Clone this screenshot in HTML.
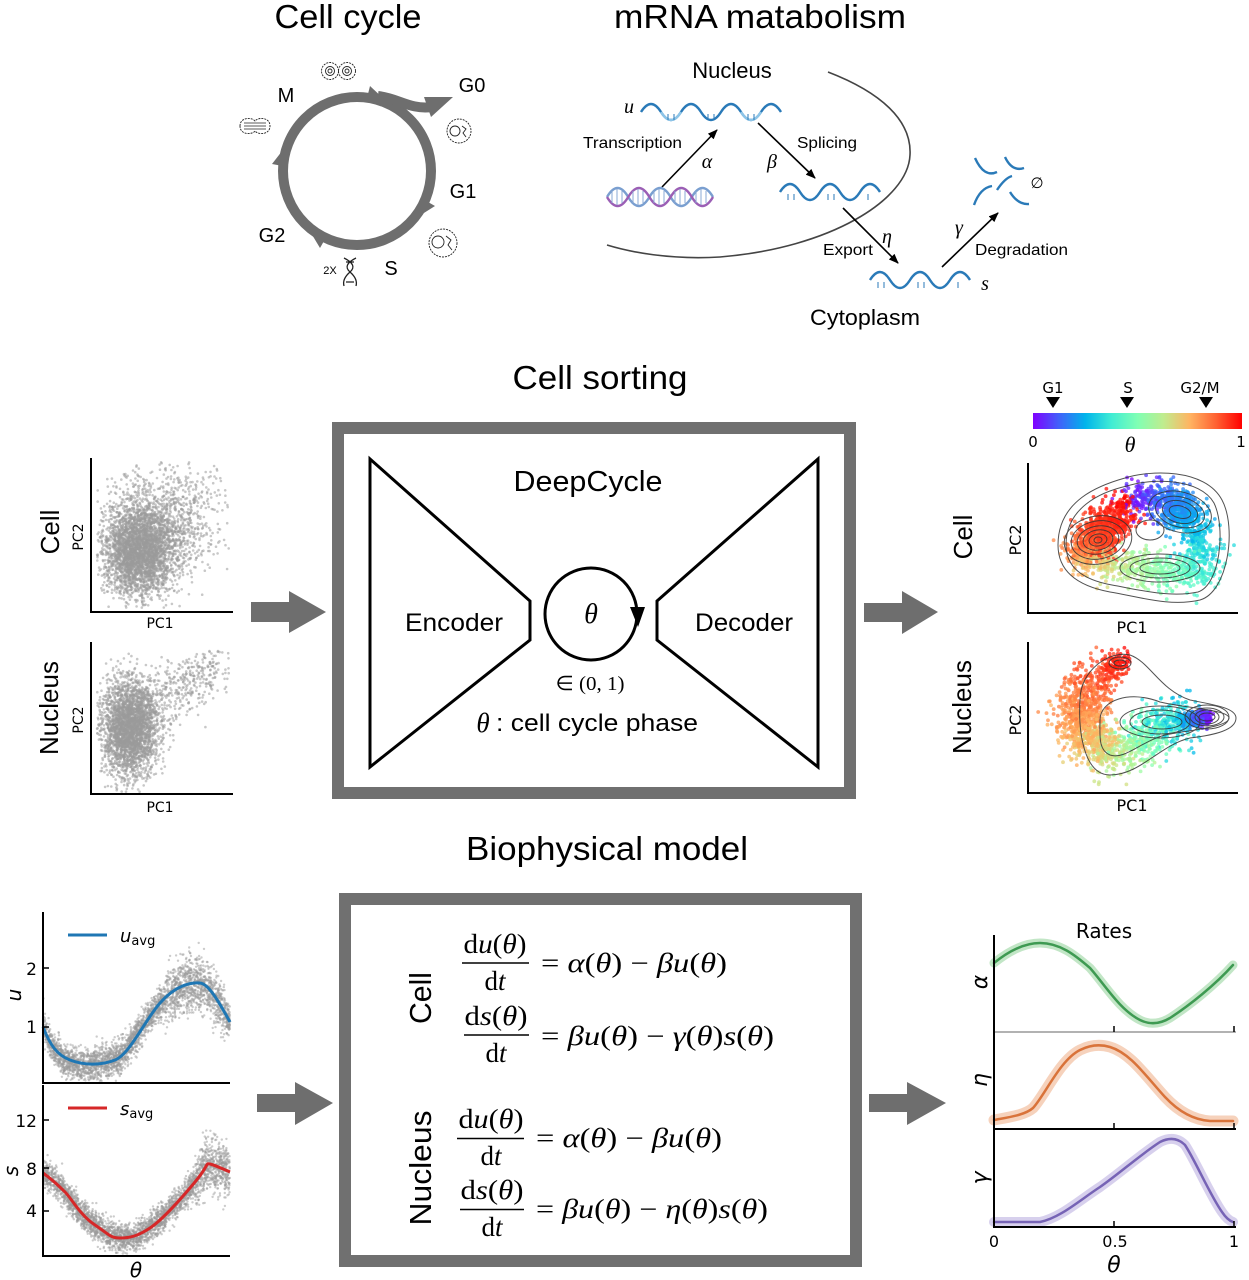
<!DOCTYPE html>
<html><head><meta charset="utf-8">
<style>
html,body{margin:0;padding:0;background:#fff;}
svg{display:block;}
.t{font-family:"Liberation Sans",sans-serif;fill:#000;}
.d{font-family:"DejaVu Sans",sans-serif;fill:#000;}
.m{font-family:"Liberation Serif",serif;fill:#000;}
</style></head><body>
<svg width="1249" height="1280" viewBox="0 0 1249 1280" xmlns="http://www.w3.org/2000/svg">
<defs>
<marker id="ah" markerWidth="10" markerHeight="8" refX="9" refY="4" orient="auto" markerUnits="userSpaceOnUse"><path d="M0,0 L10,4 L0,8 z" fill="#000"/></marker>
<linearGradient id="rb" x1="0" x2="1" y1="0" y2="0">
<stop offset="0" stop-color="#8000ff"/><stop offset="0.125" stop-color="#4061fa"/><stop offset="0.25" stop-color="#00b4eb"/><stop offset="0.375" stop-color="#40ecd4"/><stop offset="0.5" stop-color="#80ffb4"/><stop offset="0.625" stop-color="#c0ec8e"/><stop offset="0.75" stop-color="#ffb462"/><stop offset="0.875" stop-color="#ff6232"/><stop offset="1" stop-color="#ff0000"/>
</linearGradient>
</defs>
<rect width="1249" height="1280" fill="#fff"/>

<!-- Titles -->
<text class="t" x="348" y="28" font-size="33" text-anchor="middle" textLength="147" lengthAdjust="spacingAndGlyphs">Cell cycle</text>
<text class="t" x="760" y="28" font-size="33" text-anchor="middle" textLength="292" lengthAdjust="spacingAndGlyphs">mRNA matabolism</text>
<text class="t" x="600" y="389" font-size="33" text-anchor="middle" textLength="175" lengthAdjust="spacingAndGlyphs">Cell sorting</text>
<text class="t" x="607" y="860" font-size="33" text-anchor="middle" textLength="282" lengthAdjust="spacingAndGlyphs">Biophysical model</text>

<!-- Cell cycle -->
<circle cx="357" cy="171" r="74" fill="none" stroke="#6e6e6e" stroke-width="10"/>
<path d="M378,96 C398,98 410,110 432,107" fill="none" stroke="#6e6e6e" stroke-width="10"/>
<polygon points="424,97 453,97 431,117" fill="#6e6e6e"/>
<g fill="#6e6e6e">
<polygon points="387,102 370,86 366,102"/>
<polygon points="286,146 272,164 288,167"/>
<polygon points="416,218 435,206 421,198"/>
<polygon points="308,228 320,248 328,234"/>
</g>
<g class="t" font-size="20">
<text x="286" y="102" text-anchor="middle">M</text>
<text x="472" y="92" text-anchor="middle">G0</text>
<text x="463" y="198" text-anchor="middle">G1</text>
<text x="272" y="242" text-anchor="middle">G2</text>
<text x="391" y="275" text-anchor="middle">S</text>
</g>
<text class="t" x="330" y="274" font-size="11" text-anchor="middle">2X</text>
<g fill="none" stroke="#222" stroke-width="0.9">
<circle cx="330" cy="71" r="8.5" stroke-dasharray="2 1"/><circle cx="347" cy="71" r="8.5" stroke-dasharray="2 1"/>
<circle cx="330" cy="71" r="4.5"/><circle cx="347" cy="71" r="4.5"/><circle cx="330" cy="71" r="2"/><circle cx="347" cy="71" r="2"/>
<path d="M240,126 C240,117 252,117 255,121 C258,117 270,117 270,126 C270,135 258,135 255,131 C252,135 240,135 240,126 Z" stroke-dasharray="2 1"/>
<path d="M244,123 H266 M244,126 H266 M244,129 H266" stroke-width="0.7"/>
<circle cx="459" cy="131" r="12" stroke-dasharray="2 1"/><circle cx="455" cy="131" r="5"/><path d="M462,126 l4,3 l-3,4 l3,4" />
<circle cx="443" cy="243" r="14" stroke-dasharray="2 1"/><circle cx="438" cy="242" r="6"/><path d="M446,236 l5,4 l-3,5 l4,5"/>
<path d="M344,258 Q358,265 350,272 T344,286 M356,258 Q342,265 350,272 T356,286 M346,262 H354 M346,282 H354" stroke-width="1.3"/>
</g>

<!-- mRNA metabolism -->
<path d="M828,72 C880,92 912,120 910,155 C908,200 830,248 720,257 C670,260 630,252 607,245" fill="none" stroke="#444" stroke-width="1.6"/>
<text class="t" x="732" y="78" font-size="22" text-anchor="middle">Nucleus</text>
<text class="t" x="865" y="325" font-size="22" text-anchor="middle" textLength="110" lengthAdjust="spacingAndGlyphs">Cytoplasm</text>
<g class="t" font-size="16">
<text x="583" y="148" textLength="99" lengthAdjust="spacingAndGlyphs">Transcription</text>
<text x="797" y="148" textLength="60" lengthAdjust="spacingAndGlyphs">Splicing</text>
<text x="823" y="255" textLength="50" lengthAdjust="spacingAndGlyphs">Export</text>
<text x="975" y="255" textLength="93" lengthAdjust="spacingAndGlyphs">Degradation</text>
</g>
<g class="m" font-size="20" font-style="italic">
<text x="629" y="113" text-anchor="middle">u</text>
<text x="707" y="168" text-anchor="middle">α</text>
<text x="772" y="168" text-anchor="middle">β</text>
<text x="887" y="243" text-anchor="middle">η</text>
<text x="959" y="234" text-anchor="middle">γ</text>
<text x="985" y="290" text-anchor="middle">s</text>
</g>
<text class="m" x="1037" y="188" font-size="15" text-anchor="middle">∅</text>
<g stroke="#000" stroke-width="1.6" marker-end="url(#ah)">
<line x1="662" y1="187" x2="717" y2="130"/>
<line x1="758" y1="123" x2="815" y2="178"/>
<line x1="843" y1="208" x2="898" y2="263"/>
<line x1="942" y1="267" x2="998" y2="213"/>
</g>
<g fill="none" stroke-width="2.4">
<path d="M641,112 q10,-16 20,0 t20,0 t20,0 t20,0 t20,0 t20,0 t20,0" stroke="#2a7ab8"/>
<path d="M661,112 q10,16 20,0 M741,112 q10,16 20,0" stroke="#8ec5e8"/>
<path d="M780,192 q10,-16 20,0 t20,0 t20,0 t20,0 t20,0" stroke="#2a7ab8"/>
<path d="M870,280 q10,-16 20,0 t20,0 t20,0 t20,0 t20,0" stroke="#2a7ab8"/>
<path d="M607,197 q10.6,-18 21.2,0 t21.2,0 t21.2,0 t21.2,0 t21.2,0" stroke="#7a9fd0"/>
<path d="M607,197 q10.6,18 21.2,0 t21.2,0 t21.2,0 t21.2,0 t21.2,0" stroke="#9b5fb5"/>
<path d="M975,158 Q984,178 997,172 M1005,157 Q1012,172 1024,168 M974,205 Q980,188 992,186 M997,190 Q1005,178 1012,176 M1010,192 Q1018,205 1029,204" stroke="#2a7ab8"/>
</g>
<g stroke="#2a7ab8" stroke-width="1">
<path d="M668,114 v6 M674,114 v6 M708,114 v6 M714,114 v6 M748,114 v6 M754,114 v6 M788,194 v6 M794,194 v6 M828,194 v6 M834,194 v6 M868,194 v6 M878,282 v6 M884,282 v6 M918,282 v6 M924,282 v6 M958,282 v6"/>
<path d="M612,191 v12 M617,189 v16 M622,191 v12 M633,191 v12 M638,189 v16 M643,191 v12 M654,191 v12 M659,189 v16 M664,191 v12 M675,191 v12 M680,189 v16 M685,191 v12 M696,191 v12 M701,189 v16 M706,191 v12" stroke="#8aa8d4"/>
</g>

<!-- Left grey scatters -->
<g id="gc" fill="#9a9a9a" fill-opacity="0.55"></g>
<g id="gn" fill="#9a9a9a" fill-opacity="0.55"></g>
<g stroke="#000" stroke-width="2" fill="none">
<path d="M91,458 V612 H233"/>
<path d="M91,642 V794 H233"/>
</g>
<g class="d" font-size="14">
<text x="160" y="628" text-anchor="middle">PC1</text>
<text x="160" y="812" text-anchor="middle">PC1</text>
<text transform="translate(83,537) rotate(-90)" text-anchor="middle">PC2</text>
<text transform="translate(83,720) rotate(-90)" text-anchor="middle">PC2</text>
</g>
<g class="t" font-size="26">
<text transform="translate(59,532) rotate(-90)" text-anchor="middle">Cell</text>
<text transform="translate(58,708) rotate(-90)" text-anchor="middle">Nucleus</text>
</g>

<!-- Grey arrows -->
<g fill="#6e6e6e">
<path d="M251,602 H289 V591 L326,612 L289,633 V622 H251 Z"/>
<path d="M864,603 H902 V591 L938,612 L902,634 V622 H864 Z"/>
<path d="M257,1094 H295 V1082 L333,1103 L295,1125 V1112 H257 Z"/>
<path d="M869,1094 H907 V1082 L946,1103 L907,1125 V1112 H869 Z"/>
</g>

<!-- DeepCycle box -->
<rect x="338" y="428" width="512" height="365" fill="none" stroke="#707070" stroke-width="12"/>
<g fill="none" stroke="#000" stroke-width="3" stroke-linejoin="miter">
<polygon points="370,459 530,601 530,640 370,767"/>
<polygon points="657,601 818,459 818,767 657,640"/>
<circle cx="591" cy="614" r="46"/>
</g>
<polygon points="630,607 645,607 638,627" fill="#000"/>
<text class="t" x="588" y="491" font-size="29" text-anchor="middle" textLength="149" lengthAdjust="spacingAndGlyphs">DeepCycle</text>
<text class="t" x="454" y="631" font-size="25" text-anchor="middle" textLength="98" lengthAdjust="spacingAndGlyphs">Encoder</text>
<text class="t" x="744" y="631" font-size="25" text-anchor="middle" textLength="98" lengthAdjust="spacingAndGlyphs">Decoder</text>
<text class="m" x="591" y="623" font-size="28" font-style="italic" text-anchor="middle">θ</text>
<text class="m" x="590" y="690" font-size="20" text-anchor="middle" textLength="69" lengthAdjust="spacingAndGlyphs">∈ (0, 1)</text>
<text class="m" x="483" y="732" font-size="27" font-style="italic" text-anchor="middle">θ</text>
<text class="t" x="496" y="731" font-size="24" textLength="202" lengthAdjust="spacingAndGlyphs">: cell cycle phase</text>

<!-- Colorbar -->
<rect x="1033" y="413" width="209" height="16" fill="url(#rb)"/>
<g class="d" font-size="15">
<text x="1053" y="393" text-anchor="middle">G1</text>
<text x="1128" y="393" text-anchor="middle">S</text>
<text x="1200" y="393" text-anchor="middle">G2/M</text>
<text x="1033" y="447" text-anchor="middle">0</text>
<text x="1241" y="447" text-anchor="middle">1</text>
</g>
<g fill="#000">
<polygon points="1046,397 1060,397 1053,408"/>
<polygon points="1120,397 1134,397 1127,408"/>
<polygon points="1199,397 1213,397 1206,408"/>
</g>
<text class="m" x="1130" y="452" font-size="22" font-style="italic" text-anchor="middle">θ</text>

<!-- Right colored scatters -->
<g id="cc"></g>
<g id="cn"></g>
<g fill="none" stroke="#333" stroke-width="1" opacity="0.85">
<path d="M1058,545 C1058,500 1100,485 1125,478 C1150,470 1205,468 1222,500 C1237,528 1228,592 1200,600 C1170,607 1140,597 1110,592 C1078,586 1058,572 1058,545 Z"/>
<path d="M1066,545 C1066,508 1100,492 1127,486 C1152,478 1200,478 1214,503 C1226,528 1220,585 1198,592 C1170,598 1140,590 1112,585 C1084,580 1066,568 1066,545 Z"/>
<g transform="rotate(-10 1098 540)">
<ellipse cx="1098" cy="540" rx="34" ry="24"/><ellipse cx="1098" cy="540" rx="27" ry="19"/><ellipse cx="1098" cy="540" rx="21" ry="14"/><ellipse cx="1098" cy="540" rx="15" ry="10"/><ellipse cx="1098" cy="540" rx="9" ry="6"/><ellipse cx="1098" cy="540" rx="4" ry="3"/>
</g>
<g transform="rotate(15 1180 512)">
<ellipse cx="1180" cy="512" rx="32" ry="20"/><ellipse cx="1180" cy="512" rx="25" ry="15"/><ellipse cx="1180" cy="512" rx="18" ry="11"/><ellipse cx="1180" cy="512" rx="11" ry="6"/>
</g>
<ellipse cx="1160" cy="568" rx="40" ry="14"/><ellipse cx="1160" cy="568" rx="30" ry="10"/><ellipse cx="1160" cy="568" rx="20" ry="6"/>
<ellipse cx="1150" cy="530" rx="14" ry="10"/>
<path d="M1080,700 C1080,670 1110,650 1130,655 C1150,662 1160,690 1190,700 C1215,705 1236,708 1236,718 C1236,730 1215,735 1190,738 C1160,745 1140,775 1110,775 C1085,775 1078,735 1080,700 Z"/>
<path d="M1100,720 C1100,700 1130,690 1160,702 C1185,708 1229,710 1229,718 C1229,727 1190,730 1165,735 C1140,742 1125,760 1110,755 C1098,750 1100,735 1100,720 Z"/>
<ellipse cx="1160" cy="722" rx="40" ry="16"/><ellipse cx="1160" cy="722" rx="30" ry="12"/><ellipse cx="1162" cy="722" rx="20" ry="7"/>
<ellipse cx="1207" cy="717" rx="22" ry="12"/><ellipse cx="1207" cy="717" rx="17" ry="9"/><ellipse cx="1207" cy="717" rx="12" ry="7"/><ellipse cx="1207" cy="717" rx="8" ry="4"/>
<ellipse cx="1120" cy="663" rx="11" ry="6"/><ellipse cx="1120" cy="663" rx="6" ry="3"/>
</g>
<g stroke="#000" stroke-width="2" fill="none">
<path d="M1028,463 V613 H1238"/>
<path d="M1028,642 V793 H1238"/>
</g>
<g class="d" font-size="16">
<text x="1132" y="633" text-anchor="middle">PC1</text>
<text x="1132" y="811" text-anchor="middle">PC1</text>
<text transform="translate(1021,540) rotate(-90)" text-anchor="middle">PC2</text>
<text transform="translate(1021,720) rotate(-90)" text-anchor="middle">PC2</text>
</g>
<g class="t" font-size="26">
<text transform="translate(972,537) rotate(-90)" text-anchor="middle">Cell</text>
<text transform="translate(971,707) rotate(-90)" text-anchor="middle">Nucleus</text>
</g>

<!-- u / s plots -->
<g id="gu" fill="#999" fill-opacity="0.5"></g>
<g id="gs" fill="#999" fill-opacity="0.5"></g>
<path d="M43,1027 C50,1045 57,1055 70,1060 S100,1066 115,1060 S145,1020 160,1003 S190,982 200,983 S222,1008 230,1022" fill="none" stroke="#1f77b4" stroke-width="3"/>
<path d="M43,1173 C50,1178 58,1185 65,1192 S80,1215 95,1225 S110,1238 120,1238 S138,1236 150,1228 S180,1200 195,1182 S205,1163 210,1164 S225,1170 230,1172" fill="none" stroke="#d62728" stroke-width="3"/>
<g stroke="#000" stroke-width="2" fill="none">
<path d="M43,912 V1083 H230"/>
<path d="M43,1085 V1256 H230"/>
<path d="M43,968 h6 M43,1027 h6 M43,1120 h6 M43,1168 h6 M43,1211 h6" stroke-width="1.5"/>
</g>
<g class="d" font-size="17" text-anchor="end">
<text x="37" y="975">2</text>
<text x="37" y="1033">1</text>
<text x="37" y="1127">12</text>
<text x="37" y="1175">8</text>
<text x="37" y="1217">4</text>
</g>
<g class="d" font-size="20" font-style="italic">
<text transform="translate(21,995) rotate(-90)" text-anchor="middle">u</text>
<text transform="translate(18,1171) rotate(-90)" text-anchor="middle">s</text>
<text x="136" y="1277" text-anchor="middle">θ</text>
</g>
<line x1="68" y1="935" x2="107" y2="935" stroke="#1f77b4" stroke-width="3"/>
<line x1="68" y1="1108" x2="107" y2="1108" stroke="#d62728" stroke-width="3"/>
<text class="d" x="120" y="942" font-size="18"><tspan font-style="italic">u</tspan><tspan font-size="13" dy="3">avg</tspan></text>
<text class="d" x="120" y="1115" font-size="18"><tspan font-style="italic">s</tspan><tspan font-size="13" dy="3">avg</tspan></text>

<!-- Equations box -->
<rect x="345" y="899" width="511" height="362" fill="none" stroke="#707070" stroke-width="12"/>
<g class="t" font-size="31">
<text transform="translate(431,998) rotate(-90)" text-anchor="middle" textLength="52" lengthAdjust="spacingAndGlyphs">Cell</text>
<text transform="translate(431,1168) rotate(-90)" text-anchor="middle" textLength="115" lengthAdjust="spacingAndGlyphs">Nucleus</text>
</g>
<g class="m" font-size="27">
<text x="495" y="953" text-anchor="middle" textLength="63" lengthAdjust="spacingAndGlyphs">d<tspan font-style="italic">u</tspan>(<tspan font-style="italic">θ</tspan>)</text>
<text x="495" y="990" text-anchor="middle">d<tspan font-style="italic">t</tspan></text>
<text x="541" y="972" textLength="186" lengthAdjust="spacingAndGlyphs">= <tspan font-style="italic">α</tspan>(<tspan font-style="italic">θ</tspan>) − <tspan font-style="italic">βu</tspan>(<tspan font-style="italic">θ</tspan>)</text>
<text x="496" y="1025" text-anchor="middle" textLength="63" lengthAdjust="spacingAndGlyphs">d<tspan font-style="italic">s</tspan>(<tspan font-style="italic">θ</tspan>)</text>
<text x="496" y="1062" text-anchor="middle">d<tspan font-style="italic">t</tspan></text>
<text x="541" y="1045" textLength="233" lengthAdjust="spacingAndGlyphs">= <tspan font-style="italic">βu</tspan>(<tspan font-style="italic">θ</tspan>) − <tspan font-style="italic">γ</tspan>(<tspan font-style="italic">θ</tspan>)<tspan font-style="italic">s</tspan>(<tspan font-style="italic">θ</tspan>)</text>
<text x="491" y="1128" text-anchor="middle" textLength="65" lengthAdjust="spacingAndGlyphs">d<tspan font-style="italic">u</tspan>(<tspan font-style="italic">θ</tspan>)</text>
<text x="491" y="1165" text-anchor="middle">d<tspan font-style="italic">t</tspan></text>
<text x="536" y="1147" textLength="186" lengthAdjust="spacingAndGlyphs">= <tspan font-style="italic">α</tspan>(<tspan font-style="italic">θ</tspan>) − <tspan font-style="italic">βu</tspan>(<tspan font-style="italic">θ</tspan>)</text>
<text x="492" y="1199" text-anchor="middle" textLength="63" lengthAdjust="spacingAndGlyphs">d<tspan font-style="italic">s</tspan>(<tspan font-style="italic">θ</tspan>)</text>
<text x="492" y="1236" text-anchor="middle">d<tspan font-style="italic">t</tspan></text>
<text x="536" y="1218" textLength="232" lengthAdjust="spacingAndGlyphs">= <tspan font-style="italic">βu</tspan>(<tspan font-style="italic">θ</tspan>) − <tspan font-style="italic">η</tspan>(<tspan font-style="italic">θ</tspan>)<tspan font-style="italic">s</tspan>(<tspan font-style="italic">θ</tspan>)</text>
</g>
<g stroke="#000" stroke-width="1.5">
<line x1="462" y1="963" x2="529" y2="963"/>
<line x1="464" y1="1035" x2="529" y2="1035"/>
<line x1="457" y1="1138.5" x2="524" y2="1138.5"/>
<line x1="460" y1="1209.5" x2="524" y2="1209.5"/>
</g>

<!-- Rates -->
<text class="d" x="1104" y="938" font-size="20" text-anchor="middle">Rates</text>
<g fill="none" stroke-linecap="round">
<path d="M994,963 C1010,950 1025,943 1040,943 C1060,943 1075,955 1090,968 C1105,985 1120,1010 1140,1020 C1150,1025 1160,1024 1170,1018 C1190,1005 1215,985 1233,965" stroke="#a8dcae" stroke-width="9" stroke-opacity="0.7"/>
<path d="M994,963 C1010,950 1025,943 1040,943 C1060,943 1075,955 1090,968 C1105,985 1120,1010 1140,1020 C1150,1025 1160,1024 1170,1018 C1190,1005 1215,985 1233,965" stroke="#3e9a52" stroke-width="2.5"/>
<path d="M994,1120 C1010,1117 1025,1115 1033,1108 C1045,1095 1060,1060 1080,1050 C1090,1045 1100,1044 1110,1047 C1130,1053 1145,1075 1165,1097 C1180,1113 1195,1120 1210,1121 L1233,1121" stroke="#f3c3a6" stroke-width="11" stroke-opacity="0.75"/>
<path d="M994,1120 C1010,1117 1025,1115 1033,1108 C1045,1095 1060,1060 1080,1050 C1090,1045 1100,1044 1110,1047 C1130,1053 1145,1075 1165,1097 C1180,1113 1195,1120 1210,1121 L1233,1121" stroke="#d9733a" stroke-width="2.5"/>
<path d="M994,1222 L1040,1222 C1060,1218 1080,1200 1100,1187 C1120,1173 1140,1155 1160,1142 C1170,1137 1178,1138 1185,1145 C1195,1160 1210,1195 1222,1212 C1226,1218 1230,1221 1233,1222" stroke="#cdc4e8" stroke-width="10" stroke-opacity="0.8"/>
<path d="M994,1222 L1040,1222 C1060,1218 1080,1200 1100,1187 C1120,1173 1140,1155 1160,1142 C1170,1137 1178,1138 1185,1145 C1195,1160 1210,1195 1222,1212 C1226,1218 1230,1221 1233,1222" stroke="#7663b5" stroke-width="2.5"/>
</g>
<path d="M994,1032 H1236" stroke="#999" stroke-width="1.5"/>
<g stroke="#000" stroke-width="2" fill="none">
<path d="M994,935 V1227 H1236"/>
<path d="M994,1129 H1236"/>
<path d="M1114,1032 v-6 M1234,1032 v-6 M1114,1129 v-6 M1234,1129 v-6 M1114,1227 v-6 M1234,1227 v-6" stroke-width="1.5"/>
</g>
<g class="d" font-size="16" text-anchor="middle">
<text x="994" y="1247">0</text>
<text x="1115" y="1247">0.5</text>
<text x="1234" y="1247">1</text>
</g>
<g class="d" font-size="22" font-style="italic" text-anchor="middle">
<text transform="translate(987,982) rotate(-90)">α</text>
<text transform="translate(987,1080) rotate(-90)">η</text>
<text transform="translate(987,1178) rotate(-90)">γ</text>
<text x="1114" y="1272">θ</text>
</g>
</svg>
<script>
(function(){
var seed=1234567;
function rnd(){seed|=0;seed=seed+0x6D2B79F5|0;var t=Math.imul(seed^seed>>>15,1|seed);t=t+Math.imul(t^t>>>7,61|t)^t;return((t^t>>>14)>>>0)/4294967296;}
function g(){var u=rnd()||1e-9,v=rnd();return Math.sqrt(-2*Math.log(u))*Math.cos(2*Math.PI*v);}
function c(x,y,r,f){return '<circle cx="'+x.toFixed(1)+'" cy="'+y.toFixed(1)+'" r="'+r+'"'+(f?' fill="'+f+'"':'')+'/>';}
function set(id,h){document.getElementById(id).innerHTML=h;}
var h='',i,x,y;
for(i=0;i<4200;i++){
 var q=rnd();
 if(q<0.75){x=138+g()*18;y=552+g()*22;}else{x=165+g()*28;y=518+g()*28;}
 if(x<97||x>229||y<462||y>608)continue; h+=c(x,y,1.3);}
set('gc',h);h='';
for(i=0;i<3400;i++){
 if(rnd()<0.87){x=130+g()*14;y=728+g()*24;}else{var t=rnd();x=140+t*85+g()*12;y=712-t*50+g()*14;}
 if(x<97||x>229||y<650||y>792)continue; h+=c(x,y,1.3);}
set('gn',h);h='';
function ix(p,x){for(var k=0;k<p.length-1;k++){if(x<=p[k+1][0]){var a=p[k],b=p[k+1],f=(x-a[0])/(b[0]-a[0]);return a[1]+f*(b[1]-a[1]);}}return p[p.length-1][1];}
var up=[[43,1027],[50,1043],[57,1053],[70,1062],[83,1065],[110,1062],[122,1055],[133,1040],[147,1020],[160,1003],[175,992],[190,985],[197,983],[205,986],[213,995],[222,1008],[230,1022]];
for(i=0;i<3200;i++){x=43+rnd()*187;var sd=(x>165&&x<225)?13:8;y=ix(up,x)+g()*sd;if(y<913||y>1081)continue;h+=c(x,y,1.2);}
set('gu',h);h='';
var sp=[[43,1173],[55,1182],[65,1192],[80,1212],[95,1226],[110,1236],[120,1238],[135,1236],[150,1228],[165,1215],[180,1200],[195,1182],[203,1168],[210,1164],[220,1168],[230,1172]];
for(i=0;i<3200;i++){x=43+rnd()*187;var sd2=(x>195&&x<230)?13:7;y=ix(sp,x)+g()*sd2;if(y<1087||y>1254)continue;h+=c(x,y,1.2);}
set('gs',h);h='';
function rb(t){var r=Math.abs(2*t-0.5),gg=Math.sin(Math.PI*t),b=Math.cos(Math.PI*t/2);function q(v){v=Math.max(0,Math.min(1,v));return Math.round(v*255);}return 'rgb('+q(r)+','+q(gg)+','+q(b)+')';}
function tr(p,t){for(var k=0;k<p.length-1;k++){if(t<=p[k+1][0]){var a=p[k],b=p[k+1],f=(t-a[0])/(b[0]-a[0]);return [a[1]+f*(b[1]-a[1]),a[2]+f*(b[2]-a[2])];}}var l=p[p.length-1];return [l[1],l[2]];}
var ct=[[0,1128,500],[0.1,1155,497],[0.2,1183,508],[0.3,1200,540],[0.38,1205,570],[0.5,1165,572],[0.62,1127,567],[0.72,1090,562],[0.82,1078,548],[0.92,1100,538],[1,1128,500]];
for(i=0;i<2400;i++){var t=rnd();var w=rnd();if(w<0.28)t=0.93+g()*0.03;else if(w<0.42)t=0.2+g()*0.04;t=((t%1)+1)%1;var p=tr(ct,t);x=p[0]+g()*10;y=p[1]+g()*9;if(x<1031||y>610||y<466)continue;h+=c(x,y,1.9,rb(t));}
set('cc','<g fill-opacity="0.75">'+h+'</g>');h='';
var nt=[[0,1207,718],[0.12,1197,719],[0.25,1182,721],[0.4,1160,727],[0.52,1140,742],[0.62,1118,755],[0.72,1092,745],[0.8,1078,715],[0.88,1090,685],[0.94,1112,667],[1,1122,660]];
for(i=0;i<2000;i++){var t2=rnd();if(rnd()<0.3)t2=0.8+g()*0.06;t2=Math.max(0,Math.min(0.999,t2));var p2=tr(nt,t2);var s=t2<0.25?4:(t2>0.92?7:13);x=p2[0]+g()*s;y=p2[1]+g()*s*0.9;if(x<1031||y>790||y<645)continue;h+=c(x,y,1.9,rb(t2));}
set('cn','<g fill-opacity="0.75">'+h+'</g>');
})();
</script>
</body></html>
